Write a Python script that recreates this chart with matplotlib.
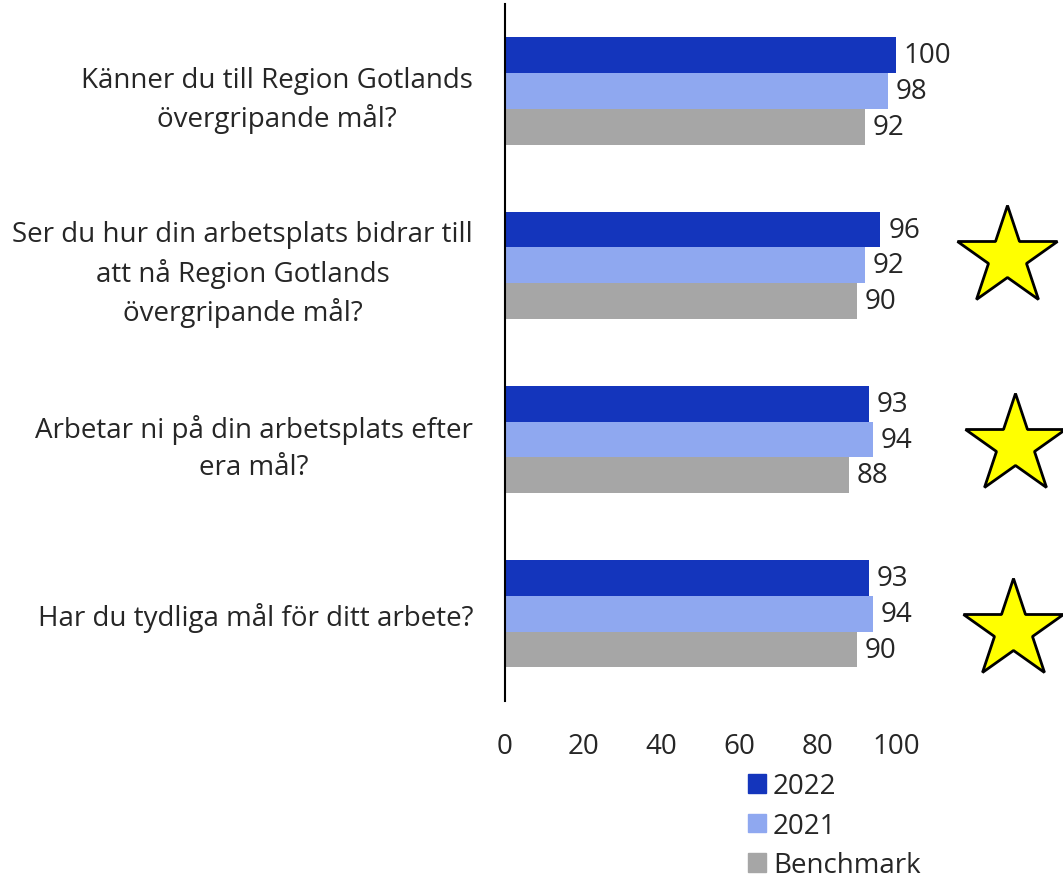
import numpy as np
import matplotlib.pyplot as plt
from matplotlib.patches import Patch

#Data
questions = ['Känner du till Region Gotlands\növergripande mål?',
             'Ser du hur din arbetsplats bidrar till\natt nå Region Gotlands\növergripande mål?',
             'Arbetar ni på din arbetsplats efter\nera mål?',
             'Har du tydliga mål för ditt arbete?']
v2022 = [100, 96, 93, 93]
v2021 = [98, 92, 94, 94]
bench = [92, 90, 88, 90]
series_names = ['2022', '2021', 'Benchmark']
starred = [False, True, True, True]
xticks = [0, 20, 40, 60, 80, 100]

#Style
colors = ['#1435BC', '#8FA8F0', '#A6A6A6']
txt_col = '#262626'
plt.rcParams['font.family'] = ['Open Sans', 'DejaVu Sans']
fs = 20

fig = plt.figure(figsize=(10.63, 8.79), dpi=100)
ax = fig.add_axes([0.4751, 0.2014, 0.3678, 0.793])

y = np.arange(len(questions))
h = 0.205
for k, vals in enumerate([v2022, v2021, bench]):
    pos = y + (k - 1) * h
    ax.barh(pos, vals, height=h, color=colors[k], label=series_names[k])
    for p, v in zip(pos, vals):
        ax.text(v + 2, p, str(v), va='center', ha='left', fontsize=fs, color=txt_col)

#Stars for the flagged questions
star_x = [0, 128.5, 130.5, 130]
star_shift = [0, -0.05, 0.03, 0.09]
for i in range(len(questions)):
    if starred[i]:
        ax.plot(star_x[i], y[i] + star_shift[i], marker='*', markersize=75,
                markerfacecolor='#FFFF00', markeredgecolor='black',
                markeredgewidth=2, clip_on=False)

ax.set_xlim(0, 100)
ax.set_ylim(3.5, -0.5)
ax.set_yticks(y)
ax.set_yticklabels(questions, fontsize=fs, color=txt_col, linespacing=1.42)
for lbl in ax.get_yticklabels():
    lbl.set_multialignment('center')
ax.set_xticks(xticks)
ax.set_xticklabels([str(t) for t in xticks], fontsize=fs, color=txt_col)
ax.tick_params(axis='both', length=0)
ax.tick_params(axis='y', pad=23)
ax.tick_params(axis='x', pad=22)

for s in ['top', 'right', 'bottom']:
    ax.spines[s].set_visible(False)
ax.spines['left'].set_linewidth(1.5)
ax.spines['left'].set_color('black')

handles = [Patch(color=c) for c in colors]
fig.legend(handles, series_names, loc='upper left', bbox_to_anchor=(0.68, 0.149),
           frameon=False, fontsize=fs, handlelength=0.65, handleheight=0.65,
           handletextpad=0.25, labelspacing=0.42, labelcolor=txt_col)

plt.savefig('out.png', dpi=100)
